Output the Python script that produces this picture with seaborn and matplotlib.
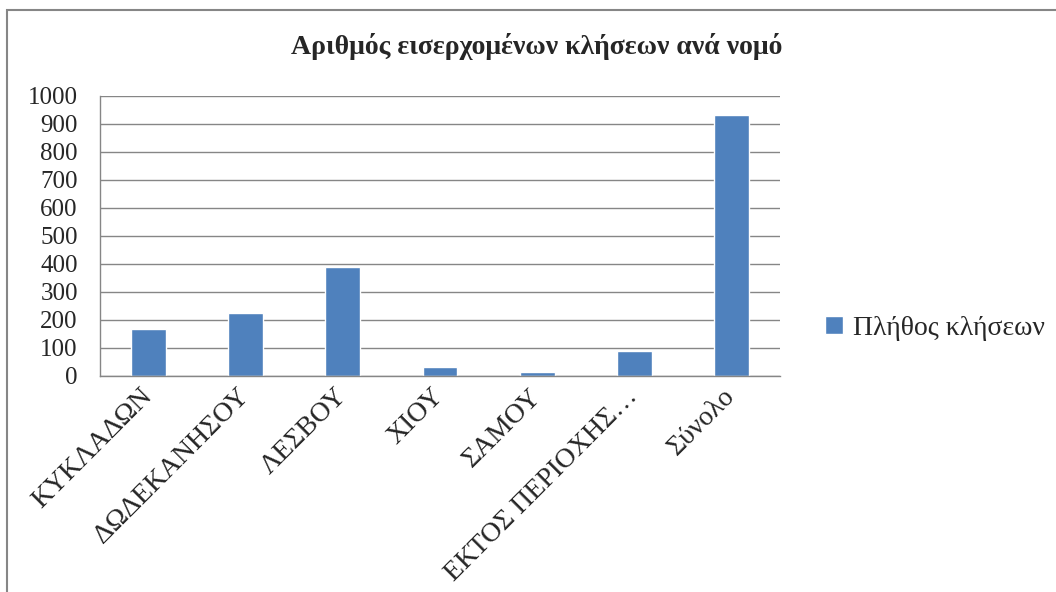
import numpy as np
import pandas as pd
import matplotlib
matplotlib.use("Agg")
import matplotlib.pyplot as plt
import seaborn as sns
from matplotlib.patches import Rectangle

# Δεδομένα (εκτίμηση από την εικόνα)
nomoi = ["ΚΥΚΛΑΔΩΝ", "ΔΩΔΕΚΑΝΗΣΟΥ", "ΛΕΣΒΟΥ", "ΧΙΟΥ", "ΣΑΜΟΥ",
         "ΕΚΤΟΣ ΠΕΡΙΟΧΗΣ…", "Σύνολο"]
kliseis = [168, 226, 390, 33, 15, 90, 931]
series_name = "Πλήθος κλήσεων"
y_ticks = list(range(0, 1001, 100))

BAR_COLOR = "#4F81BD"
GRID_COLOR = "#868686"

sns.set_style("white")
plt.rcParams["font.family"] = ["Liberation Serif", "DejaVu Serif"]

df = pd.DataFrame({"nomos": nomoi, "kliseis": kliseis, "seira": series_name})

fig = plt.figure(figsize=(10.56, 5.92), dpi=100)
ax = fig.add_axes([100 / 1056, 1 - 376 / 592, 680 / 1056, 280 / 592])

sns.barplot(data=df, x="nomos", y="kliseis", hue="seira",
            palette=[BAR_COLOR], width=0.36, saturation=1, ax=ax)

ax.set_ylim(0, 1000)
ax.set_xlim(-0.5, len(nomoi) - 0.5)
ax.set_yticks(y_ticks)
ax.set_yticklabels([str(v) for v in y_ticks], fontsize=18)
ax.grid(axis="y", color=GRID_COLOR, lw=1)
ax.set_axisbelow(True)
ax.set_xlabel("")
ax.set_ylabel("")

# x: ετικέτες στο κέντρο, γραμμές υποδιαίρεσης στα όρια
ax.set_xticks(range(len(nomoi)))
ax.set_xticklabels(nomoi, rotation=45, ha="right", va="center",
                   rotation_mode="anchor", fontsize=20)
ax.tick_params(axis="x", which="major", length=0, pad=12)
ax.set_xticks(np.arange(-0.5, len(nomoi)), minor=True)
ax.tick_params(axis="x", which="minor", length=8, color=GRID_COLOR, width=1)
ax.tick_params(axis="y", length=8, color=GRID_COLOR, width=1, pad=8)

for s in ["top", "right"]:
    ax.spines[s].set_visible(False)
for s in ["left", "bottom"]:
    ax.spines[s].set_color(GRID_COLOR)
    ax.spines[s].set_linewidth(1)

leg = ax.legend(loc="center left", bbox_to_anchor=(1.03, 0.17), frameon=False,
                fontsize=20, handlelength=0.65, handleheight=0.65,
                handletextpad=0.35)

fig.text(0.508, 1 - 47 / 592, "Αριθμός εισερχομένων κλήσεων ανά νομό",
         ha="center", va="center", fontsize=20, fontweight="bold")

# πλαίσιο γραφήματος
fig.patches.append(Rectangle((7 / 1056, -0.1), 1.2, 1 - 10 / 592 + 0.1,
                             transform=fig.transFigure, fill=False,
                             edgecolor=GRID_COLOR, lw=1.5))

fig.savefig("out.png", dpi=100)
